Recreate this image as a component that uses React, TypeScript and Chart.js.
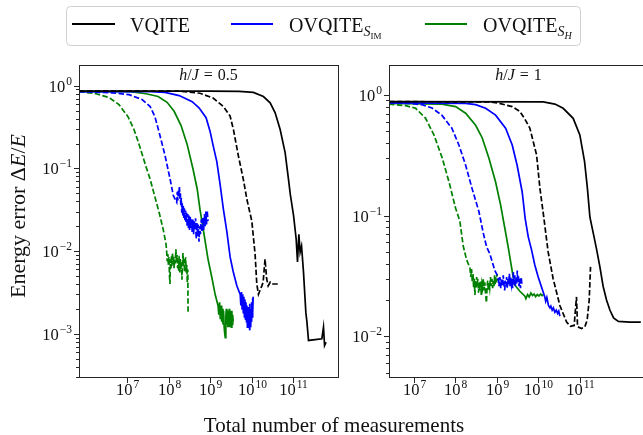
import React, { useEffect, useRef } from "react";
import { Chart, registerables } from "chart.js";

Chart.register(...registerables);

// ---------- DATA (x = total measurements, y = energy error) ----------
// Left panel: h/J = 0.5
const leftVqite: [number, number][] = [
  [7e5, 0.86], [1e9, 0.86], [5e9, 0.855], [1.1e10, 0.83], [1.92e10, 0.74], [2.79e10, 0.62],
  [3.68e10, 0.47], [4.86e10, 0.295], [6.4e10, 0.155], [7.7e10, 0.074], [8.5e10, 0.049],
  [1.02e11, 0.027], [1.18e11, 0.014], [1.27e11, 0.0074], [1.37e11, 0.016], [1.47e11, 0.0097],
  [1.59e11, 0.0115], [1.77e11, 0.0056], [2.02e11, 0.0018], [2.14e11, 0.0014], [2.34e11, 0.00083],
  [4.9e11, 0.00087], [5.37e11, 0.0012], [5.7e11, 0.00072], [6.2e11, 0.00079],
];
const leftVqiteDash: [number, number][] = [
  [7e5, 0.86], [1.9e8, 0.86], [5.7e8, 0.81], [1.18e9, 0.71], [2.09e9, 0.56], [3.03e9, 0.43],
  [3.64e9, 0.295], [4.8e9, 0.141], [6.3e9, 0.074], [7.7e9, 0.042], [1.01e10, 0.023],
  [1.21e10, 0.0092], [1.33e10, 0.004], [1.46e10, 0.003], [1.76e10, 0.0038], [1.89e10, 0.0042],
  [2.1e10, 0.008], [2.3e10, 0.0046], [2.5e10, 0.0038], [2.8e10, 0.0042], [3.1e10, 0.004],
  [4.35e10, 0.004],
];
const leftSimSolid: [number, number][] = [
  [7e5, 0.85], [3.6e7, 0.85], [8.2e7, 0.83], [1.8e8, 0.76], [3.7e8, 0.64], [5.4e8, 0.54],
  [8.0e8, 0.41], [1.0e9, 0.28], [1.18e9, 0.19], [1.45e9, 0.121], [1.74e9, 0.064], [2.09e9, 0.032],
  [2.52e9, 0.0174], [3.03e9, 0.0085], [3.58e9, 0.0057], [4.4e9, 0.0038], [5.3e9, 0.003],
  [5.5e9, 0.0022], [5.7e9, 0.0032], [5.9e9, 0.002], [6.1e9, 0.003], [6.3e9, 0.0018],
  [6.5e9, 0.0028], [6.7e9, 0.0016], [6.9e9, 0.0026], [7.1e9, 0.0015], [7.3e9, 0.0024],
  [7.5e9, 0.0014], [7.7e9, 0.0022], [7.9e9, 0.0012], [8.1e9, 0.0019], [8.3e9, 0.0013],
  [8.5e9, 0.0021], [8.7e9, 0.0014], [8.9e9, 0.0023], [9.1e9, 0.0011], [9.3e9, 0.0018],
  [9.5e9, 0.0012], [9.7e9, 0.002], [9.9e9, 0.0014], [1.01e10, 0.0024], [1.03e10, 0.0016],
  [1.05e10, 0.0027], [1.07e10, 0.0018], [1.09e10, 0.0028],
];
const leftSimDash: [number, number][] = [
  [7e5, 0.85], [4.35e6, 0.82], [1.12e7, 0.78], [2.3e7, 0.68], [3.6e7, 0.56], [4.7e7, 0.42],
  [6.2e7, 0.25], [8.2e7, 0.144], [1.09e8, 0.074], [1.3e8, 0.047], [1.57e8, 0.039],
  [1.62e8, 0.052], [1.67e8, 0.041], [1.72e8, 0.055], [1.77e8, 0.046], [1.82e8, 0.061],
  [1.87e8, 0.043], [1.92e8, 0.05], [1.97e8, 0.036], [2.02e8, 0.044], [2.08e8, 0.029],
  [2.14e8, 0.038], [2.2e8, 0.027], [2.26e8, 0.035], [2.32e8, 0.025], [2.4e8, 0.033],
  [2.48e8, 0.023], [2.56e8, 0.031], [2.64e8, 0.022], [2.72e8, 0.029], [2.8e8, 0.02],
  [2.9e8, 0.028], [3.0e8, 0.019], [3.1e8, 0.027], [3.2e8, 0.018], [3.32e8, 0.026],
  [3.44e8, 0.019], [3.56e8, 0.025], [3.7e8, 0.017], [3.84e8, 0.024], [4.0e8, 0.016],
  [4.15e8, 0.023], [4.3e8, 0.018], [4.46e8, 0.025], [4.62e8, 0.014], [4.8e8, 0.022],
  [5.0e8, 0.015], [5.2e8, 0.021], [5.4e8, 0.013], [5.6e8, 0.02], [5.85e8, 0.016],
  [6.1e8, 0.024], [6.4e8, 0.017], [6.7e8, 0.025], [7.0e8, 0.018], [7.3e8, 0.028],
  [7.6e8, 0.02], [7.9e8, 0.03], [8.2e8, 0.021], [8.5e8, 0.031], [8.9e8, 0.023],
];
const leftShSolid: [number, number][] = [
  [7e5, 0.85], [1.2e7, 0.85], [2.87e7, 0.8], [5.6e7, 0.74], [9.2e7, 0.63], [1.36e8, 0.49],
  [2.0e8, 0.33], [2.8e8, 0.195], [3.9e8, 0.097], [4.9e8, 0.056], [5.7e8, 0.032], [7.2e8, 0.0156],
  [8.9e8, 0.008], [1.12e9, 0.0046], [1.32e9, 0.003], [1.55e9, 0.0022], [1.62e9, 0.0017],
  [1.69e9, 0.0024], [1.76e9, 0.0015], [1.83e9, 0.0022], [1.9e9, 0.0014], [1.97e9, 0.002],
  [2.04e9, 0.0013], [2.11e9, 0.0019], [2.18e9, 0.0012], [2.25e9, 0.001], [2.32e9, 0.0009],
  [2.39e9, 0.0016], [2.46e9, 0.002], [2.53e9, 0.0013], [2.6e9, 0.0019], [2.67e9, 0.0012],
  [2.74e9, 0.0018], [2.81e9, 0.0013], [2.88e9, 0.002], [2.95e9, 0.0012], [3.02e9, 0.0019],
  [3.1e9, 0.0013], [3.18e9, 0.0018], [3.26e9, 0.0012], [3.34e9, 0.0019], [3.42e9, 0.0013],
  [3.5e9, 0.0017], [3.6e9, 0.0014],
];
const leftShDash: [number, number][] = [
  [7e5, 0.85], [1.79e6, 0.8], [3.68e6, 0.72], [6.4e6, 0.59], [1.06e7, 0.42], [1.47e7, 0.295],
  [1.95e7, 0.195], [2.7e7, 0.115], [3.6e7, 0.074], [4.7e7, 0.045], [5.9e7, 0.0295],
  [7.4e7, 0.0184], [8.7e7, 0.0121], [9.0e7, 0.0098], [9.3e7, 0.0075], [9.6e7, 0.0092],
  [9.9e7, 0.0068], [1.02e8, 0.0085], [1.05e8, 0.0052], [1.08e8, 0.004], [1.11e8, 0.0079],
  [1.14e8, 0.0062], [1.17e8, 0.0088], [1.2e8, 0.0066], [1.24e8, 0.0095], [1.28e8, 0.007],
  [1.32e8, 0.0085], [1.36e8, 0.0062], [1.4e8, 0.008], [1.45e8, 0.0071], [1.5e8, 0.0105],
  [1.55e8, 0.0074], [1.6e8, 0.009], [1.65e8, 0.0062], [1.7e8, 0.0078], [1.75e8, 0.0058],
  [1.8e8, 0.0088], [1.86e8, 0.0054], [1.92e8, 0.008], [1.98e8, 0.006], [2.04e8, 0.0075],
  [2.1e8, 0.0045], [2.16e8, 0.007], [2.22e8, 0.0095], [2.28e8, 0.0066], [2.35e8, 0.008],
  [2.42e8, 0.0056], [2.5e8, 0.0076], [2.58e8, 0.0084], [2.66e8, 0.0055], [2.74e8, 0.0068],
  [2.82e8, 0.0042], [2.9e8, 0.006], [2.95e8, 0.0018],
];

// Right panel: h/J = 1
const rightVqite: [number, number][] = [
  [2.5e6, 0.88], [1.31e10, 0.875], [2.5e10, 0.84], [3.96e10, 0.775], [6.9e10, 0.64],
  [1.0e11, 0.466], [1.3e11, 0.28], [1.52e11, 0.169], [1.75e11, 0.097], [2.1e11, 0.072],
  [2.52e11, 0.053], [3.03e11, 0.038], [3.64e11, 0.026], [4.4e11, 0.02], [5.3e11, 0.0165],
  [6.5e11, 0.0142], [8.5e11, 0.0133], [1.6e12, 0.0131], [2.95e12, 0.0131],
];
const rightVqiteDash: [number, number][] = [
  [2.5e6, 0.88], [6.8e8, 0.875], [1.12e9, 0.853], [2.34e9, 0.8], [3.58e9, 0.73], [4.73e9, 0.63],
  [6.24e9, 0.53], [9.06e9, 0.318], [1.09e10, 0.168], [1.31e10, 0.105], [1.72e10, 0.05],
  [2.27e10, 0.03], [3.3e10, 0.018], [4.8e10, 0.0131], [5.97e10, 0.0121], [7.3e10, 0.0123],
  [8.3e10, 0.0212], [8.8e10, 0.012], [1.1e11, 0.0116], [1.32e11, 0.012], [1.5e11, 0.0136],
  [1.68e11, 0.0199], [1.81e11, 0.0376],
];
const rightSimSolid: [number, number][] = [
  [2.5e6, 0.86], [1.76e8, 0.85], [3.07e8, 0.83], [5.35e8, 0.775], [9.3e8, 0.68], [1.62e9, 0.53],
  [2.34e9, 0.385], [3.08e9, 0.26], [4.07e9, 0.157], [4.8e9, 0.095], [5.68e9, 0.067],
  [6.85e9, 0.052], [8.2e9, 0.039], [9.9e9, 0.031], [1.19e10, 0.0256], [1.43e10, 0.0212],
  [1.5e10, 0.0195], [1.6e10, 0.021], [1.75e10, 0.018], [1.9e10, 0.0172], [2.0e10, 0.0178],
  [2.15e10, 0.0165], [2.3e10, 0.0172], [2.5e10, 0.0158], [2.7e10, 0.0165], [2.9e10, 0.0155],
  [3.1e10, 0.0162], [3.3e10, 0.0147],
];
const rightSimDash: [number, number][] = [
  [2.5e6, 0.86], [8e6, 0.85], [1.56e7, 0.83], [2.72e7, 0.78], [4.7e7, 0.68], [8.2e7, 0.53],
  [1.21e8, 0.385], [1.76e8, 0.262], [2.5e8, 0.169], [3.68e8, 0.108], [4.68e8, 0.072],
  [5.65e8, 0.055], [6.8e8, 0.048], [7.45e8, 0.043], [8.95e8, 0.035], [1.07e9, 0.031],
  [1.12e9, 0.026], [1.18e9, 0.031], [1.24e9, 0.025], [1.3e9, 0.03], [1.36e9, 0.026],
  [1.42e9, 0.032], [1.48e9, 0.027], [1.54e9, 0.024], [1.6e9, 0.029], [1.66e9, 0.026],
  [1.72e9, 0.031], [1.78e9, 0.025], [1.85e9, 0.03], [1.92e9, 0.027], [2.0e9, 0.033],
  [2.08e9, 0.026], [2.16e9, 0.031], [2.24e9, 0.027], [2.32e9, 0.03], [2.4e9, 0.025],
  [2.5e9, 0.034], [2.6e9, 0.027], [2.7e9, 0.032], [2.8e9, 0.026], [2.9e9, 0.031],
  [3.0e9, 0.027], [3.1e9, 0.035], [3.2e9, 0.028], [3.3e9, 0.032], [3.4e9, 0.026],
  [3.55e9, 0.03], [3.7e9, 0.025], [3.85e9, 0.031], [4.0e9, 0.027],
];
const rightShSolid: [number, number][] = [
  [2.5e6, 0.85], [4.7e7, 0.84], [1.01e8, 0.8], [1.76e8, 0.705], [3.07e8, 0.56], [4.43e8, 0.44],
  [6.4e8, 0.3], [9.3e8, 0.19], [1.23e9, 0.122], [1.58e9, 0.076], [1.87e9, 0.055], [2.26e9, 0.037],
  [2.47e9, 0.031], [2.72e9, 0.0265], [3.58e9, 0.0236], [4.73e9, 0.0215], [5.0e9, 0.0205],
  [5.5e9, 0.0222], [6.0e9, 0.0212], [6.6e9, 0.0228], [7.2e9, 0.0218], [7.9e9, 0.0224],
  [8.6e9, 0.0213], [9.4e9, 0.0222], [1.03e10, 0.0216], [1.13e10, 0.0224], [1.23e10, 0.0217],
  [1.31e10, 0.0221],
];
const rightShDash: [number, number][] = [
  [2.5e6, 0.84], [6.3e6, 0.815], [1.1e7, 0.775], [1.91e7, 0.64], [3.03e7, 0.466], [4.8e7, 0.3],
  [7.0e7, 0.19], [1.01e8, 0.115], [1.28e8, 0.09], [1.54e8, 0.056], [1.86e8, 0.043],
  [2.23e8, 0.037], [2.35e8, 0.031], [2.45e8, 0.036], [2.55e8, 0.028], [2.65e8, 0.033],
  [2.75e8, 0.025], [2.85e8, 0.03], [2.95e8, 0.022], [3.05e8, 0.029], [3.15e8, 0.025],
  [3.25e8, 0.031], [3.35e8, 0.026], [3.45e8, 0.03], [3.6e8, 0.023], [3.75e8, 0.028],
  [3.9e8, 0.024], [4.05e8, 0.029], [4.2e8, 0.022], [4.35e8, 0.027], [4.5e8, 0.025],
  [4.7e8, 0.03], [4.9e8, 0.024], [5.1e8, 0.028], [5.3e8, 0.023], [5.5e8, 0.02], [5.6e8, 0.019],
  [5.8e8, 0.026], [6.0e8, 0.029], [6.2e8, 0.024], [6.4e8, 0.028], [6.7e8, 0.025], [7.0e8, 0.031],
  [7.3e8, 0.026], [7.6e8, 0.03], [7.9e8, 0.025], [8.2e8, 0.029], [8.5e8, 0.026], [8.8e8, 0.032],
  [9.1e8, 0.027], [9.4e8, 0.031], [9.7e8, 0.028], [1.0e9, 0.033], [1.03e9, 0.029],
];

// Axis limits and tick labels (exponents of 10)
const leftXRange: [number, number] = [6.97e5, 1.2e12];
const leftYRange: [number, number] = [3.0e-4, 1.78];
const rightXRange: [number, number] = [2.5e6, 4.4e12];
const rightYRange: [number, number] = [4.6e-3, 1.77];
const xTickExps = [7, 8, 9, 10, 11];
const leftYTickExps = [0, -1, -2, -3];
const rightYTickExps = [0, -1, -2];

const legendLabels = ["VQITE", "OVQITE", "OVQITE"];
const titleLeft = "0.5";
const titleRight = "1";

// ---------- STYLE ----------
const FONT = '"Liberation Serif", "DejaVu Serif", serif';
const TICK_FONT = 16.5;
const SUP_FONT = 11.5;
const AXIS_COLOR = "#262626";
const BLACK = "#000000";
const BLUE = "#0000ff";
const GREEN = "#008000";
const DASH = [5.5, 2.4];

function drawPow(ctx: CanvasRenderingContext2D, exp: number, x: number, y: number, align: "center" | "right") {
  const sup = exp < 0 ? "\u2212" + String(-exp) : String(exp);
  ctx.font = `${TICK_FONT}px ${FONT}`;
  const wb = ctx.measureText("10").width;
  ctx.font = `${SUP_FONT}px ${FONT}`;
  const ws = ctx.measureText(sup).width;
  const gap = 1;
  const total = wb + gap + ws;
  const x0 = align === "center" ? x - total / 2 : x - total;
  ctx.textAlign = "left";
  ctx.textBaseline = "alphabetic";
  ctx.font = `${TICK_FONT}px ${FONT}`;
  ctx.fillText("10", x0, y);
  ctx.font = `${SUP_FONT}px ${FONT}`;
  ctx.fillText(sup, x0 + wb + gap, y - TICK_FONT * 0.42);
}

const mplAxes = {
  id: "mplAxes",
  afterDatasetsDraw(chart: any, _args: any, opts: any) {
    const { ctx, chartArea: ca } = chart;
    const xs = chart.scales.x;
    const ys = chart.scales.y;
    ctx.save();
    ctx.strokeStyle = AXIS_COLOR;
    ctx.fillStyle = "#111";
    ctx.lineWidth = 1;
    ctx.strokeRect(ca.left + 0.5, ca.top + 0.5, ca.right - ca.left, ca.bottom - ca.top);
    for (const e of opts.xExps as number[]) {
      const px = Math.round(xs.getPixelForValue(Math.pow(10, e))) + 0.5;
      ctx.beginPath();
      ctx.moveTo(px, ca.bottom + 1);
      ctx.lineTo(px, ca.bottom + 6);
      ctx.stroke();
      drawPow(ctx, e, px, ca.bottom + 18, "center");
    }
    const [ymin, ymax] = opts.yRange as [number, number];
    for (let k = Math.floor(Math.log10(ymin)); k <= Math.ceil(Math.log10(ymax)); k++) {
      for (let m = 2; m <= 9; m++) {
        const v = m * Math.pow(10, k);
        if (v < ymin || v > ymax) continue;
        const py = Math.round(ys.getPixelForValue(v)) + 0.5;
        ctx.beginPath();
        ctx.moveTo(ca.left, py);
        ctx.lineTo(ca.left - 3, py);
        ctx.stroke();
      }
    }
    for (const e of opts.yExps as number[]) {
      const py = Math.round(ys.getPixelForValue(Math.pow(10, e))) + 0.5;
      ctx.beginPath();
      ctx.moveTo(ca.left, py);
      ctx.lineTo(ca.left - 5, py);
      ctx.stroke();
      drawPow(ctx, e, ca.left - 7, py + 5.5, "right");
    }
    ctx.restore();
  },
};

function ds(data: [number, number][], color: string, dashed: boolean) {
  return {
    data: data.map(([x, y]) => ({ x, y })),
    borderColor: color,
    backgroundColor: color,
    borderWidth: 1.7,
    borderDash: dashed ? DASH : [],
    pointRadius: 0,
    tension: 0,
    fill: false,
  };
}

function makeConfig(
  series: any[],
  xRange: [number, number],
  yRange: [number, number],
  yExps: number[],
  padding: { left: number; right: number; top: number; bottom: number }
): any {
  return {
    type: "line",
    data: { datasets: series },
    options: {
      responsive: false,
      animation: false,
      events: [],
      layout: { padding },
      plugins: {
        legend: { display: false },
        tooltip: { enabled: false },
        mplAxes: { xExps: xTickExps, yExps, yRange },
      },
      scales: {
        x: { type: "logarithmic", min: xRange[0], max: xRange[1], display: false },
        y: { type: "logarithmic", min: yRange[0], max: yRange[1], display: false },
      },
    },
    plugins: [mplAxes],
  };
}

export default function App() {
  const leftRef = useRef<HTMLCanvasElement>(null);
  const rightRef = useRef<HTMLCanvasElement>(null);

  useEffect(() => {
    const left = new Chart(
      leftRef.current as HTMLCanvasElement,
      makeConfig(
        [
          ds(leftVqite, BLACK, false),
          ds(leftVqiteDash, BLACK, true),
          ds(leftSimSolid, BLUE, false),
          ds(leftSimDash, BLUE, true),
          ds(leftShSolid, GREEN, false),
          ds(leftShDash, GREEN, true),
        ],
        leftXRange,
        leftYRange,
        leftYTickExps,
        { left: 79, right: 7, top: 65, bottom: 58 }
      )
    );
    const right = new Chart(
      rightRef.current as HTMLCanvasElement,
      makeConfig(
        [
          ds(rightVqite, BLACK, false),
          ds(rightVqiteDash, BLACK, true),
          ds(rightSimSolid, BLUE, false),
          ds(rightSimDash, BLUE, true),
          ds(rightShSolid, GREEN, false),
          ds(rightShDash, GREEN, true),
        ],
        rightXRange,
        rightYRange,
        rightYTickExps,
        { left: 59, right: 12, top: 65, bottom: 58 }
      )
    );
    return () => {
      left.destroy();
      right.destroy();
    };
  }, []);

  return (
    <div
      style={{
        position: "absolute",
        left: 0,
        top: 0,
        width: 643,
        height: 435,
        overflow: "hidden",
        background: "#ffffff",
      }}
    >
      <canvas ref={leftRef} width={345} height={435} style={{ position: "absolute", left: 0, top: 0 }} />
      <canvas ref={rightRef} width={330} height={435} style={{ position: "absolute", left: 330, top: 0 }} />
      <svg
        width={643}
        height={435}
        style={{ position: "absolute", left: 0, top: 0, pointerEvents: "none" }}
        fontFamily={FONT}
        fill="#111"
      >
        <rect x={66.5} y={6.5} width={514} height={39} rx={4} ry={4} fill="#ffffff" fillOpacity={0.8} stroke="#d0d0d0" strokeWidth={1} />
        <line x1={72} y1={24} x2={115} y2={24} stroke={BLACK} strokeWidth={2} />
        <text x={130} y={32} fontSize={20}>{legendLabels[0]}</text>
        <line x1={231} y1={24} x2={273} y2={24} stroke={BLUE} strokeWidth={2} />
        <text x={289} y={32} fontSize={20}>
          {legendLabels[1]}
          <tspan fontStyle="italic" fontSize={14} dy={4}>S</tspan>
          <tspan fontSize={9} dy={3}>IM</tspan>
        </text>
        <line x1={425} y1={24} x2={467} y2={24} stroke={GREEN} strokeWidth={2} />
        <text x={483} y={32} fontSize={20}>
          {legendLabels[2]}
          <tspan fontStyle="italic" fontSize={14} dy={4}>S</tspan>
          <tspan fontStyle="italic" fontSize={10} dy={3}>H</tspan>
        </text>
        <text x={208.5} y={80} fontSize={16} textAnchor="middle">
          <tspan fontStyle="italic">h</tspan>
          <tspan>/</tspan>
          <tspan fontStyle="italic">J</tspan>
          <tspan dx={5}>=</tspan>
          <tspan dx={5}>{titleLeft}</tspan>
        </text>
        <text x={518.5} y={80} fontSize={16} textAnchor="middle">
          <tspan fontStyle="italic">h</tspan>
          <tspan>/</tspan>
          <tspan fontStyle="italic">J</tspan>
          <tspan dx={5}>=</tspan>
          <tspan dx={5}>{titleRight}</tspan>
        </text>
        <text transform="translate(25,216) rotate(-90)" fontSize={22} textAnchor="middle">
          Energy error {"\u0394"}
          <tspan fontStyle="italic">E</tspan>/<tspan fontStyle="italic">E</tspan>
        </text>
        <text x={334} y={432} fontSize={21} textAnchor="middle">
          Total number of measurements
        </text>
      </svg>
    </div>
  );
}
